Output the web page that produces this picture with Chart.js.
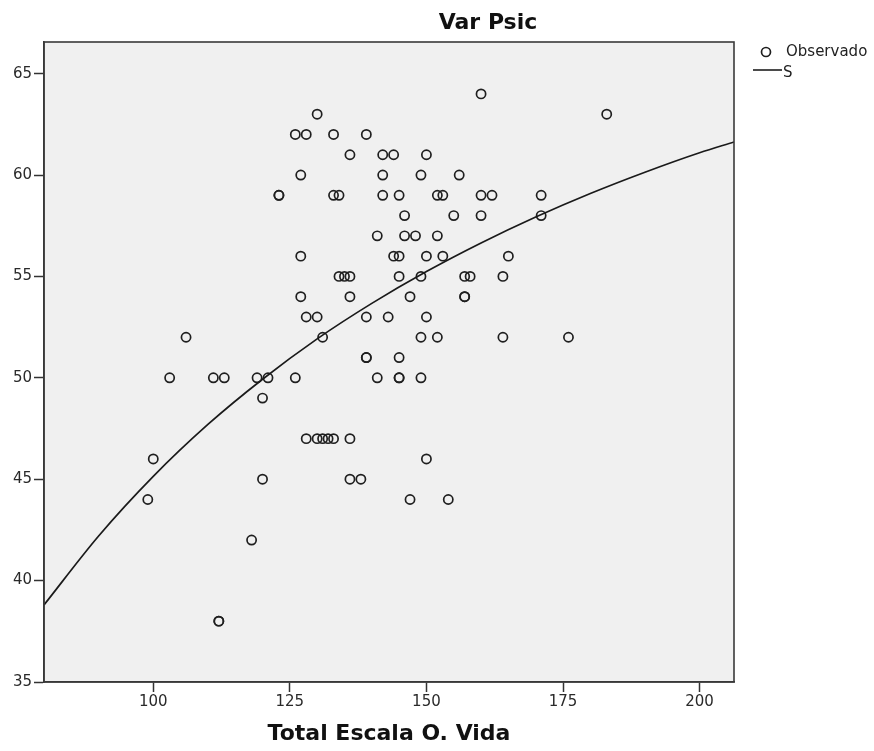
<!DOCTYPE html>
<html>
<head>
<meta charset="utf-8">
<script src="https://cdn.jsdelivr.net/npm/chart.js@4.4.0/dist/chart.umd.min.js"></script>
<style>
  html, body { margin: 0; padding: 0; background: #ffffff; }
  #wrap { width: 874px; height: 751px; position: relative; }
</style>
</head>
<body>
<div id="wrap"><canvas id="c" width="874" height="751"></canvas></div>
<script>
// ---- Data ----
const chartTitle = "Var Psic";
const xAxisTitle = "Total Escala O. Vida";
const legendLabels = ["Observado", "S"];

const xTickValues = [100, 125, 150, 175, 200];
const yTickValues = [35, 40, 45, 50, 55, 60, 65];

// Observed points (Total Escala O. Vida, Var Psic)
const obsTotal = [
  160,
  130, 183,
  126, 128, 133, 139,
  136, 142, 144, 150,
  127, 142, 149, 156,
  123, 123, 133, 134, 142, 145, 152, 153, 160, 162, 171,
  146, 155, 160, 171,
  141, 146, 148, 152,
  127, 144, 145, 150, 153, 165,
  134, 135, 136, 145, 149, 157, 158, 164,
  127, 136, 147, 157, 157,
  128, 130, 139, 143, 150,
  106, 131, 149, 152, 164, 176,
  139, 139, 145,
  103, 111, 113, 119, 121, 126, 141, 145, 145, 149,
  120,
  128, 130, 131, 132, 133, 136,
  100, 150,
  120, 136, 138,
  99, 147, 154,
  118,
  112, 112
];
const obsVarPsic = [
  64,
  63, 63,
  62, 62, 62, 62,
  61, 61, 61, 61,
  60, 60, 60, 60,
  59, 59, 59, 59, 59, 59, 59, 59, 59, 59, 59,
  58, 58, 58, 58,
  57, 57, 57, 57,
  56, 56, 56, 56, 56, 56,
  55, 55, 55, 55, 55, 55, 55, 55,
  54, 54, 54, 54, 54,
  53, 53, 53, 53, 53,
  52, 52, 52, 52, 52, 52,
  51, 51, 51,
  50, 50, 50, 50, 50, 50, 50, 50, 50, 50,
  49,
  47, 47, 47, 47, 47, 47,
  46, 46,
  45, 45, 45,
  44, 44, 44,
  42,
  38, 38
];

// Fitted S curve
const curveX = [80, 90, 100, 110, 120, 130, 140, 150, 160, 170, 180, 190, 200, 206.3];
const curveY = [38.80, 42.20, 45.14, 47.70, 49.93, 51.92, 53.67, 55.24, 56.65, 57.93, 59.09, 60.14, 61.10, 61.63];

// ---- Build datasets ----
const obsPoints = obsTotal.map((x, i) => ({ x: x, y: obsVarPsic[i] }));
const curvePoints = curveX.map((x, i) => ({ x: x, y: curveY[i] }));

const FONT = "'DejaVu Sans', 'Liberation Sans', sans-serif";
const INK = '#1f1f1f';

const decorPlugin = {
  id: 'decor',
  beforeDraw(chart) {
    const { ctx, chartArea: a } = chart;
    ctx.save();
    ctx.fillStyle = '#f0f0f0';
    ctx.fillRect(a.left, a.top, a.right - a.left, a.bottom - a.top);
    ctx.restore();
  },
  afterDraw(chart) {
    const { ctx, chartArea: a } = chart;
    ctx.save();
    // frame
    ctx.strokeStyle = '#3a3a3a';
    ctx.lineWidth = 1.6;
    ctx.strokeRect(a.left, a.top, a.right - a.left, a.bottom - a.top);
    // title
    ctx.fillStyle = '#111';
    ctx.font = "bold 22px " + FONT;
    ctx.textAlign = 'center';
    ctx.textBaseline = 'middle';
    ctx.fillText(chartTitle, 488, 23);
    // legend
    ctx.lineWidth = 1.7;
    ctx.strokeStyle = INK;
    ctx.beginPath();
    ctx.arc(766, 52, 4.5, 0, Math.PI * 2);
    ctx.stroke();
    ctx.lineWidth = 1.6;
    ctx.beginPath();
    ctx.moveTo(753, 70);
    ctx.lineTo(782, 70);
    ctx.stroke();
    ctx.fillStyle = '#222';
    ctx.font = "15px " + FONT;
    ctx.textAlign = 'left';
    ctx.fillText(legendLabels[0], 786, 52);
    ctx.fillText(legendLabels[1], 783, 73);
    ctx.restore();
  }
};

new Chart(document.getElementById('c'), {
  data: {
    datasets: [
      {
        type: 'scatter',
        label: legendLabels[0],
        data: obsPoints,
        pointStyle: 'circle',
        pointRadius: 4.6,
        pointBorderWidth: 1.7,
        borderColor: INK,
        backgroundColor: 'rgba(0,0,0,0)',
        pointHoverRadius: 4.6,
        order: 2
      },
      {
        type: 'line',
        label: legendLabels[1],
        data: curvePoints,
        borderColor: '#1a1a1a',
        borderWidth: 1.7,
        pointRadius: 0,
        fill: false,
        cubicInterpolationMode: 'monotone',
        order: 1
      }
    ]
  },
  options: {
    responsive: false,
    animation: false,
    devicePixelRatio: 1,
    layout: { padding: { top: 42, right: 140, left: 0, bottom: 0 } },
    plugins: {
      legend: { display: false },
      title: { display: false },
      tooltip: { enabled: false }
    },
    scales: {
      x: {
        type: 'linear',
        position: 'bottom',
        min: 80,
        max: 206.3,
        afterBuildTicks(s) { s.ticks = xTickValues.map(v => ({ value: v })); },
        afterFit(s) { s.height = 69; },
        grid: { drawOnChartArea: false, drawTicks: true, tickLength: 10, tickColor: '#333', tickWidth: 1.5 },
        border: { display: true, color: '#333', width: 1.6 },
        ticks: { color: '#2a2a2a', font: { family: FONT, size: 15 }, padding: 1, maxRotation: 0, autoSkip: false },
        title: { display: true, text: xAxisTitle, color: '#111', font: { family: FONT, size: 22, weight: 'bold' }, padding: { top: 0, bottom: 4 } }
      },
      y: {
        type: 'linear',
        position: 'left',
        min: 35,
        max: 66.56,
        afterBuildTicks(s) { s.ticks = yTickValues.map(v => ({ value: v })); },
        afterFit(s) { s.width = 44; },
        grid: { drawOnChartArea: false, drawTicks: true, tickLength: 10, tickColor: '#333', tickWidth: 1.5 },
        border: { display: true, color: '#333', width: 1.6 },
        ticks: { color: '#2a2a2a', font: { family: FONT, size: 15 }, padding: 2, autoSkip: false }
      }
    }
  },
  plugins: [decorPlugin]
});
</script>
</body>
</html>
